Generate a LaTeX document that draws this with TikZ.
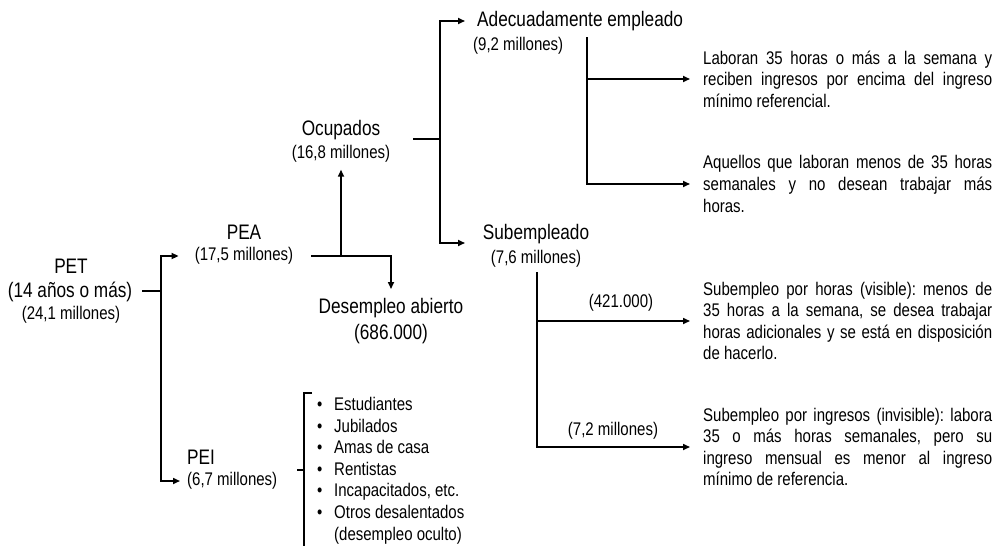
\documentclass[tikz,border=0pt]{standalone}
\usepackage{fontspec}
\setmainfont{Liberation Sans}[FakeStretch=0.82]
\usetikzlibrary{arrows.meta}
\frenchspacing
\tikzset{
    >={Triangle[length=7pt,width=6pt]},
    conn/.style={draw,line width=1.6pt},
    arr/.style={conn,->},
    brack/.style={draw,line width=1.3pt},
    headtxt/.style={font=\fontsize{21}{25}\selectfont,inner sep=0pt},
    numtxt/.style={font=\fontsize{18.3}{21.6}\selectfont,inner sep=0pt},
    desctxt/.style={numtxt,anchor=west,text width=289pt,align=justify}
}

\begin{document}
\begin{tikzpicture}[x=1pt,y=-1pt]
\useasboundingbox (0,0) rectangle (995,546);

% Population
\node[headtxt] (pet) at (71,266) {PET};
\node[headtxt] (petage) at (70,292) {(14 años o más)};
\node[numtxt] (petnum) at (71,315) {(24,1 millones)};

\node[headtxt] (pea) at (244,232) {PEA};
\node[numtxt] (peanum) at (244,256) {(17,5 millones)};
\node[headtxt,anchor=west] (pei) at (187,457) {PEI};
\node[numtxt,anchor=west] (peinum) at (187,481) {(6,7 millones)};

\node[headtxt] (ocu) at (341,130) {Ocupados};
\node[numtxt] (ocunum) at (341,154) {(16,8 millones)};
\node[headtxt] (desemp) at (391,308) {Desempleo abierto};
\node[headtxt] (desnum) at (391,334) {(686.000)};

\node[headtxt,anchor=west] (adec) at (477,21) {Adecuadamente empleado};
\node[numtxt,anchor=west] (adecnum) at (473,46) {(9,2 millones)};
\node[headtxt] (sub) at (536,234) {Subempleado};
\node[numtxt] (subnum) at (536,259) {(7,6 millones)};

% Descriptions
\node[desctxt] (lab1) at (703,79) {Laboran 35 horas o más a la semana y\linebreak
  reciben ingresos por encima del ingreso\linebreak mínimo referencial.};
\node[desctxt] (lab2) at (703,184) {Aquellos que laboran menos de 35 horas\linebreak
  semanales y no desean trabajar más\linebreak horas.};
\node[desctxt] (sub1) at (703,321) {Subempleo por horas (visible): menos de\linebreak
  35 horas a la semana, se desea trabajar\linebreak
  horas adicionales y se está en disposición\linebreak de hacerlo.};
\node[desctxt] (sub2) at (703,447) {Subempleo por ingresos (invisible): labora\linebreak
  35 o más horas semanales, pero su\linebreak
  ingreso mensual es menor al ingreso\linebreak mínimo de referencia.};
\node[numtxt] (horas) at (621,303) {(421.000)};
\node[numtxt] (ingresos) at (613,431) {(7,2 millones)};

\node[numtxt,anchor=north west,align=left] (peilist) at (317,397) {%
  \makebox[17pt][l]{\textbullet}Estudiantes\\
  \makebox[17pt][l]{\textbullet}Jubilados\\
  \makebox[17pt][l]{\textbullet}Amas de casa\\
  \makebox[17pt][l]{\textbullet}Rentistas\\
  \makebox[17pt][l]{\textbullet}Incapacitados, etc.\\
  \makebox[17pt][l]{\textbullet}Otros desalentados\\
  \hspace*{17pt}(desempleo oculto)};

% Junctions
\coordinate (petj) at (161,291);
\coordinate (peaj) at (341,256);
\coordinate (ocuout) at (413,139);
\coordinate (ocuj) at (440,139);
\coordinate (subtip) at (465,243);
\coordinate (adecj) at (587,37);
\coordinate (subj) at (537,272);
\coordinate (brtop) at (304,393);
\coordinate (brmid) at (304,470);
\coordinate (brbot) at (304,546);

% Connectors
\draw[conn] (petj -| petage.east) ++(10,0) -- (petj);
\draw[arr,shorten >=16pt] (petj) |- (peanum.west);
\draw[arr,shorten >=7pt] (petj) |- (peinum.west);
\draw[arr,shorten <=18pt,shorten >=9pt] (peanum.east) -| (desemp.north);
\draw[arr,shorten >=7pt] (peaj) -- (ocunum.south);
\draw[conn] (ocuout) -- (ocuj);
\draw[arr,shorten >=12pt] (ocuj) |- (adec.west);
\draw[arr] (ocuj) |- (subtip);
\draw[arr,shorten >=13pt] (adecj) |- (lab2.west);
\draw[arr,shorten >=13pt] (adecj |- lab1.west) -- (lab1.west);
\draw[arr,shorten >=13pt] (subj) |- (sub2.west);
\draw[arr,shorten >=13pt] (subj |- sub1.west) -- (sub1.west);

% Bracket
\draw[brack] ([xshift=8pt]brtop) -- (brtop) -- (brbot);
\draw[brack] (brmid) -- ([xshift=-7pt]brmid);

\end{tikzpicture}
\end{document}
